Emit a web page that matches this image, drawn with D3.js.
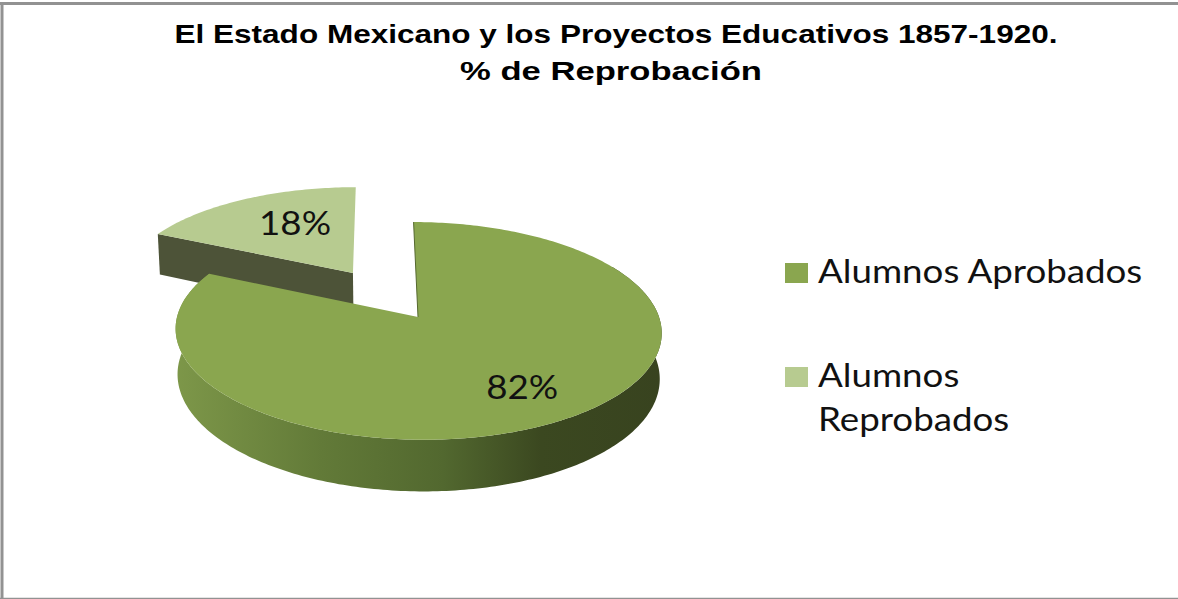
<!DOCTYPE html>
<html>
<head>
<meta charset="utf-8">
<script src="https://cdnjs.cloudflare.com/ajax/libs/d3/7.8.5/d3.min.js"></script>
<style>
html,body{margin:0;padding:0;background:#fff;overflow:hidden}
svg{display:block}
</style>
</head>
<body>
<script>
const titleLines = ["El Estado Mexicano y los Proyectos Educativos 1857-1920.", "% de Reprobación"];
const categories = ["Alumnos Aprobados", "Alumnos Reprobados"];
const legendLines = [["Alumnos Aprobados"], ["Alumnos", "Reprobados"]];
const values = [82, 18];
const explode = [0, 0.515];
const labelReach = [0.72, 0.64];
const labelNudge = [0, 14];
const topColors = ["#8aa64f", "#b7cb90"];

const width = 1178, height = 599;
const svg = d3.select("body").append("svg").attr("width", width).attr("height", height);

// Perspective view of the pie plane: s is rightwards, t is towards the viewer.
const view = {x0: 418, y0: 317, radius: 241, lean: 5, persp: -0.128, tilt: 66.5, depth: 45, shrink: 0.992};
function project(s, t, lower) {
  const w = 1 + view.persp * t;
  const x = (view.radius * s + view.lean * t) / w;
  const y = (view.y0 + view.tilt * t) / w;
  return lower
    ? [view.x0 + x * view.shrink, y + view.depth / w]
    : [view.x0 + x, y];
}

const slices = d3.pie().sort(null)(values).map((d, i) => {
  const mid = (d.startAngle + d.endAngle) / 2;
  const ox = Math.sin(mid) * explode[i], oy = -Math.cos(mid) * explode[i];
  return {...d, i, mid, ox, oy};
});

// Rim of a slice, sampled along its arc in the pie plane.
function rim(d, lower, from = d.startAngle) {
  const n = Math.ceil((d.endAngle - from) * 60);
  return d3.range(n + 1).map(k => {
    const a = from + (d.endAngle - from) * k / n;
    return project(d.ox + Math.sin(a), d.oy - Math.cos(a), lower);
  });
}
const line = d3.line().curve(d3.curveLinear);

const defs = svg.append("defs");
const wallGrad = defs.append("linearGradient").attr("id", "wallShade")
  .attr("gradientUnits", "userSpaceOnUse").attr("x1", 176).attr("x2", 662).attr("y1", 0).attr("y2", 0);
[[0, "#7d9749"], [0.3, "#627a38"], [0.55, "#52682f"], [0.75, "#3b4820"], [1, "#38431f"]]
  .forEach(([o, c]) => wallGrad.append("stop").attr("offset", o).attr("stop-color", c));

// Frame: top, left and bottom edges
const frame = [[[0, 3.5], [width, 3.5], 3], [[2, 2], [2, height], 3], [[0, 598.5], [width, 598.5], 1.5]];
svg.selectAll("path.frame").data(frame).join("path").attr("class", "frame")
  .attr("d", d => line([d[0], d[1]])).attr("fill", "none")
  .attr("stroke", "#929292").attr("stroke-width", d => d[2]);

const [major, minor] = slices;

// Detached slice: the cut face towards the viewer, then its top
const minorRim = rim(minor, false), minorLow = rim(minor, true);
const minorApex = project(minor.ox, minor.oy, false), minorApexLow = project(minor.ox, minor.oy, true);
svg.append("path")
  .attr("d", line([minorRim[0], minorApex, minorApexLow, minorLow[0]]) + "Z")
  .attr("fill", "#4d5338");
svg.append("path").attr("d", line([minorApex, ...minorRim]) + "Z").attr("fill", topColors[1]);

// Large slice: outer wall on the part of the rim facing the viewer, then top
const wallFrom = Math.PI / 3;
const majorRim = rim(major, false);
svg.append("path")
  .attr("d", line([...rim(major, false, wallFrom), ...rim(major, true, wallFrom).reverse()]) + "Z")
  .attr("fill", "url(#wallShade)");
const majorApex = project(major.ox, major.oy, false);
svg.append("path").attr("d", line([majorApex, ...majorRim]) + "Z").attr("fill", topColors[0]);
svg.append("path").attr("d", line([majorApex, majorRim[0]])).attr("fill", "none")
  .attr("stroke", "#55682f").attr("stroke-width", 1);

// Horizontal stretch shared by the body text
const stretch = 1.13;
const stretched = (sel, x, y) => sel.attr("transform", (d, i) => `translate(${x(d, i)},${y(d, i)}) scale(${stretch},1)`);
const bodySize = 32.5;

// Percentage labels
slices.forEach(d => {
  const f = labelReach[d.i];
  const p = project(d.ox + Math.sin(d.mid) * f, d.oy - Math.cos(d.mid) * f, false);
  svg.append("text").call(stretched, () => p[0] + labelNudge[d.i], () => p[1] + 11)
    .attr("text-anchor", "middle").attr("font-family", "Lato").attr("font-size", bodySize)
    .attr("fill", "#111").text(d.value + "%");
});

// Title
const titleSpan = [883, 302];
svg.selectAll("text.title").data(titleLines).join("text").attr("class", "title")
  .attr("x", (d, i) => i ? 611 : 616).attr("y", (d, i) => i ? 80 : 43)
  .attr("text-anchor", "middle").attr("font-family", "Liberation Sans").attr("font-weight", "bold")
  .attr("font-size", 26).attr("fill", "#000")
  .attr("textLength", (d, i) => titleSpan[i]).attr("lengthAdjust", "spacingAndGlyphs")
  .text(d => d);

// Legend
const legendY = d3.scalePoint().domain(categories).range([283, 387]);
const legend = svg.selectAll("g.legend").data(categories).join("g").attr("class", "legend");
legend.append("rect").attr("x", 785).attr("width", 23).attr("height", 20)
  .attr("y", d => legendY(d) - 20).attr("fill", (d, i) => topColors[i]);
legend.each(function (d, i) {
  d3.select(this).selectAll("text").data(legendLines[i]).join("text")
    .call(stretched, () => 818, (l, k) => legendY(d) + k * 44)
    .attr("font-family", "Lato").attr("font-size", bodySize).attr("fill", "#111").text(l => l);
});
</script>
</body>
</html>
